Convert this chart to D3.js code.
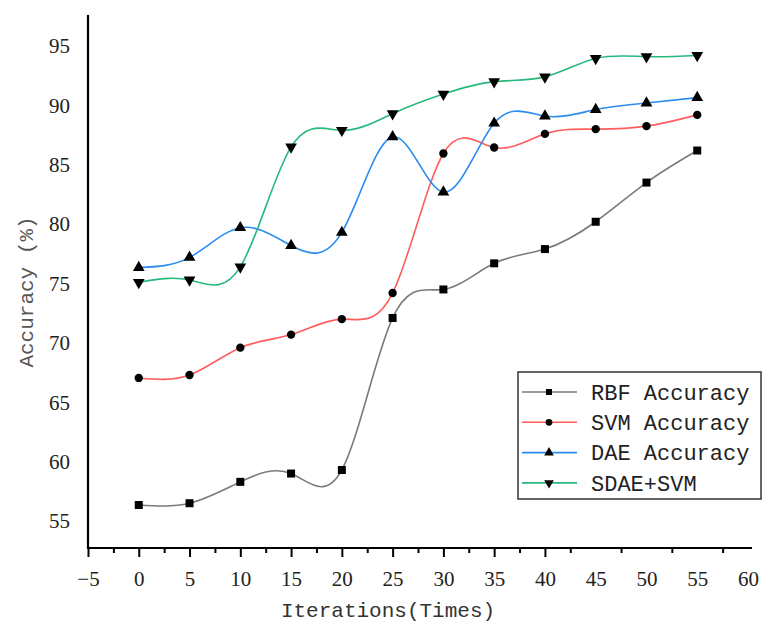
<!DOCTYPE html>
<html>
<head>
<meta charset="utf-8">
<script src="https://cdn.jsdelivr.net/npm/d3@7"></script>
<style>
  body { margin: 0; background: #fff; }
  .serif text { font-family: "Times New Roman", "Liberation Serif", serif; }
</style>
</head>
<body>
<div id="chart"></div>
<script>
const width = 763;
const height = 625;

// Data
const iterations = [0, 5, 10, 15, 20, 25, 30, 35, 40, 45, 50, 55];
const rbfAcc  = [56.35, 56.5, 58.3, 59.0, 59.3, 72.1, 74.5, 76.7, 77.9, 80.2, 83.5, 86.2];
const svmAcc  = [67.05, 67.3, 69.6, 70.7, 72.0, 74.2, 85.95, 86.45, 87.6, 88.0, 88.25, 89.2];
const daeAcc  = [76.35, 77.2, 79.7, 78.2, 79.3, 87.35, 82.7, 88.5, 89.1, 89.65, 90.2, 90.65];
const sdaeAcc = [75.1, 75.3, 76.4, 86.5, 87.9, 89.3, 90.95, 92.0, 92.4, 93.95, 94.1, 94.2];

const seriesNames = ["RBF Accuracy", "SVM Accuracy", "DAE Accuracy", "SDAE+SVM"];
const seriesValues = [rbfAcc, svmAcc, daeAcc, sdaeAcc];
const colors = ["#7a7a7a", "#ff5c5c", "#2a8cf0", "#27b97c"];
const symbols = [d3.symbolSquare, d3.symbolCircle, d3.symbolTriangle, d3.symbolTriangle];
const rotations = [0, 0, 0, 180];

const xTicks = [-5, 0, 5, 10, 15, 20, 25, 30, 35, 40, 45, 50, 55, 60];
const xMajorTicks = [-5, 0, 5, 10, 15, 20, 25, 30, 35, 40];
const xMinorTicks = [-2.5, 2.5, 7.5, 12.5, 17.5, 22.5, 27.5, 32.5, 37.5, 42.5, 47.5, 52.5, 57.5];
const yTicks = [55, 60, 65, 70, 75, 80, 85, 90, 95];

const x = d3.scaleLinear().domain([-5, 60]).range([88, 748]);
const y = d3.scaleLinear().domain([52.73, 97.61]).range([548, 15]);

const svg = d3.create("svg")
  .attr("width", width)
  .attr("height", height)
  .attr("viewBox", [0, 0, width, height]);

const monoFont = "Liberation Mono";

// x axis labels
svg.append("g")
  .attr("class", "serif")
  .attr("transform", `translate(0, 548)`)
  .call(d3.axisBottom(x).tickValues(xTicks).tickSize(0).tickPadding(23))
  .attr("font-size", 21)
  .call(g => g.select(".domain").remove())
  .call(g => g.selectAll("text").attr("fill", "#222"));

// major and minor tick marks
svg.append("g")
  .attr("transform", `translate(0, 548)`)
  .call(d3.axisBottom(x).tickValues(xMajorTicks).tickSize(9).tickFormat(""))
  .call(g => g.select(".domain").remove())
  .call(g => g.selectAll("line").attr("stroke", "#000").attr("stroke-width", 2));

svg.append("g")
  .attr("transform", `translate(0, 548)`)
  .call(d3.axisBottom(x).tickValues(xMinorTicks).tickSize(5).tickFormat(""))
  .call(g => g.select(".domain").remove())
  .call(g => g.selectAll("line").attr("stroke", "#000").attr("stroke-width", 2));

// y axis labels
svg.append("g")
  .attr("class", "serif")
  .attr("transform", `translate(88, 0)`)
  .call(d3.axisLeft(y).tickValues(yTicks).tickSize(0).tickPadding(18))
  .attr("font-size", 21)
  .call(g => g.select(".domain").remove())
  .call(g => g.selectAll("text").attr("fill", "#222"));

// axis lines
svg.append("line")
  .attr("x1", 88).attr("x2", 752)
  .attr("y1", 548).attr("y2", 548)
  .attr("stroke", "#000").attr("stroke-width", 2.2);
svg.append("line")
  .attr("x1", 88).attr("x2", 88)
  .attr("y1", 15).attr("y2", 549)
  .attr("stroke", "#000").attr("stroke-width", 2.2);

// axis titles
svg.append("text")
  .attr("x", 388).attr("y", 617)
  .attr("text-anchor", "middle")
  .attr("font-family", monoFont)
  .attr("font-size", 21)
  .attr("fill", "#333")
  .text("Iterations(Times)");

svg.append("text")
  .attr("transform", "translate(33, 292) rotate(-90)")
  .attr("text-anchor", "middle")
  .attr("font-family", monoFont)
  .attr("font-size", 21)
  .attr("fill", "#555")
  .text("Accuracy (%)");

// lines
const line = d3.line()
  .curve(d3.curveNatural)
  .x((d, i) => x(iterations[i]))
  .y(d => y(d));

seriesValues.forEach((vals, k) => {
  svg.append("path")
    .datum(vals)
    .attr("fill", "none")
    .attr("stroke", colors[k])
    .attr("stroke-width", 1.6)
    .attr("d", line);
});

// markers
seriesValues.forEach((vals, k) => {
  const size = k >= 2 ? 60 : (k === 0 ? 64 : 55);
  svg.append("g")
    .selectAll("path")
    .data(vals)
    .join("path")
      .attr("transform", (d, i) => `translate(${x(iterations[i])}, ${y(d)}) rotate(${rotations[k]})`)
      .attr("d", d3.symbol().type(symbols[k]).size(size))
      .attr("fill", "#000");
});

// legend
const legend = svg.append("g");
legend.append("rect")
  .attr("x", 518).attr("y", 372)
  .attr("width", 243).attr("height", 127)
  .attr("fill", "#fff")
  .attr("stroke", "#333")
  .attr("stroke-width", 1.5);

seriesNames.forEach((name, k) => {
  const ly = 392 + k * 30.3;
  legend.append("line")
    .attr("x1", 522).attr("x2", 577)
    .attr("y1", ly).attr("y2", ly)
    .attr("stroke", colors[k])
    .attr("stroke-width", 1.6);
  legend.append("path")
    .attr("transform", `translate(549, ${ly}) rotate(${rotations[k]})`)
    .attr("d", d3.symbol().type(symbols[k]).size(k >= 2 ? 40 : 36))
    .attr("fill", "#000");
  legend.append("text")
    .attr("x", 591).attr("y", ly)
    .attr("dy", "0.35em")
    .attr("font-family", monoFont)
    .attr("font-size", 22)
    .attr("fill", "#222")
    .text(name);
});

d3.select("#chart").node().appendChild(svg.node());
</script>
</body>
</html>
